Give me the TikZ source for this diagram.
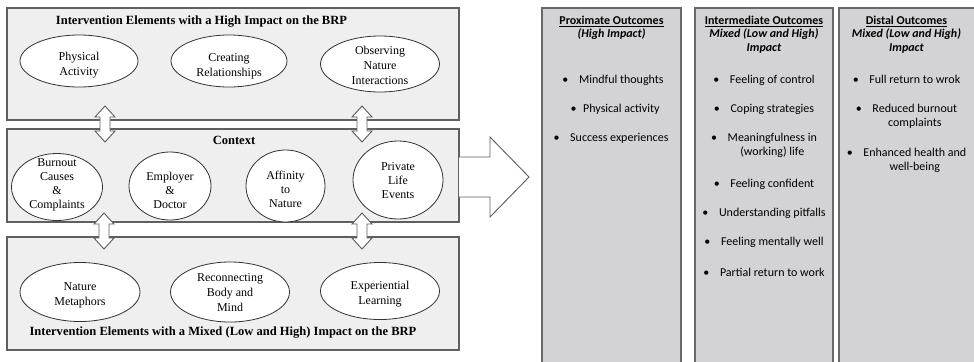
\documentclass[tikz,border=0pt]{standalone}
\usepackage{fontspec}
\setmainfont{Liberation Serif}
\newfontfamily\carl{Carlito}
\usetikzlibrary{shapes.geometric}
\definecolor{panelfill}{RGB}{239,239,239}
\definecolor{panelline}{RGB}{95,95,95}
\definecolor{colfill}{RGB}{211,211,213}
\definecolor{colline}{RGB}{105,105,105}
\definecolor{ellline}{RGB}{50,50,50}
\newcommand\dblarr[1]{%
  \draw[arrshape] (#1) -- ++(10,11) -- ++(-5,0) -- ++(0,14) -- ++(5,0) -- ++(-10,11)
    -- ++(-10,-11) -- ++(5,0) -- ++(0,-14) -- ++(-5,0) -- cycle;}
\begin{document}
\begin{tikzpicture}[x=0.75pt,y=-0.75pt,
  panel/.style={draw=panelline, fill=panelfill, line width=0.8pt},
  colbox/.style={draw=colline, fill=colfill, line width=1.1pt},
  ell/.style 2 args={ellipse, draw=ellline, fill=white, line width=0.6pt, inner sep=0pt,
     minimum width=#1*0.75pt, minimum height=#2*0.75pt},
  etext/.style={align=center, inner sep=0pt, font=\fontsize{9}{11.25}\selectfont},
  ctxtext/.style={align=center, inner sep=0pt, font=\fontsize{9}{10.5}\selectfont},
  ttl/.style={inner sep=0pt, font=\fontsize{9.4}{11}\selectfont\bfseries},
  ctext/.style={inner sep=0pt, anchor=base, align=center, font=\carl\fontsize{9}{11}\selectfont},
  arrshape/.style={draw=panelline, fill=white, line width=0.7pt, line join=miter}
]
\useasboundingbox (0,0) rectangle (974,361);

% left panels
\draw[panel] (7,8) rectangle (459,120);
\draw[panel] (7,129) rectangle (459,222);
\draw[panel] (7,237) rectangle (459,350);

% top panel
\node[ttl] (t1) at (201.5,22) {Intervention Elements with a High Impact on the BRP};
\node[ell={118}{52}] (pa) at (79,61) {};
\node[etext] at (79,65) {Physical\\Activity};
\node[ell={116}{52}] (cr) at (229,61) {};
\node[etext] at (229,66) {Creating\\Relationships};
\node[ell={119}{56}] (on) at (380,64) {};
\node[etext] at (380,65) {Observing\\Nature\\Interactions};

% context panel
\node[ttl] (t2) at (234,140) {Context};
\node[ell={91}{67}] (bc) at (57,187) {};
\node[ctxtext] at (57,185) {Burnout\\Causes\\\&\\Complaints};
\node[ell={82}{68}] (ed) at (170,186) {};
\node[ctxtext] at (170,190) {Employer\\\&\\Doctor};
\node[ell={79}{72}] (an) at (285.5,186) {};
\node[ctxtext] at (285.5,189) {Affinity\\to\\Nature};
\node[ell={90}{78}] (pl) at (398,180) {};
\node[ctxtext] at (398,181) {Private\\Life\\Events};

% bottom panel
\node[ell={120}{59}] (nm) at (80,292) {};
\node[etext] at (80,295) {Nature\\Metaphors};
\node[ell={119}{60}] (rb) at (230,292) {};
\node[etext] at (230,293) {Reconnecting\\Body and\\Mind};
\node[ell={119}{57}] (el) at (380,291) {};
\node[etext] at (380,294) {Experiential\\Learning};
\node[ttl] (t3) at (223,333) {Intervention Elements with a Mixed (Low and High) Impact on the BRP};

% double arrows
\coordinate (ua1) at (105,106);
\coordinate (ua2) at (362,106);
\coordinate (la1) at (104,213);
\coordinate (la2) at (362,213);
\dblarr{ua1}
\dblarr{ua2}
\dblarr{la1}
\dblarr{la2}

% big arrow
\coordinate (bs1) at (459,157);
\coordinate (bs2) at (459,197);
\draw[arrshape] (bs1) -- (490,157) -- (490,137) -- (529,177) -- (490,217) -- (490,197) -- (bs2);

% outcome columns
\draw[colbox] (542,8) rectangle (681,366);
\draw[colbox] (695,8) rectangle (833,366);
\draw[colbox] (839,8) rectangle (980,366);

% column 1
\node[ctext] (h1a) at (611.5,24) {\textbf{\underline{Proximate Outcomes}}};
\node[ctext] (h1b) at (611.5,37) {\textbf{\textit{(High Impact)}}};
\node[ctext] (p1) at (613,83) {\textbullet\hspace{8pt}Mindful thoughts};
\node[ctext] (p2) at (615,112) {\textbullet\hspace{5pt}Physical activity};
\node[ctext] (p3) at (611,141) {\textbullet\hspace{8pt}Success experiences};

% column 2
\node[ctext] (h2a) at (764,24) {\textbf{\underline{Intermediate Outcomes}}};
\node[ctext] (h2b) at (764,37) {\textbf{\textit{Mixed (Low and High)}}};
\node[ctext] (h2c) at (764,51) {\textbf{\textit{Impact}}};
\node[ctext] (i1) at (764,83) {\textbullet\hspace{8pt}Feeling of control};
\node[ctext] (i2) at (764,112) {\textbullet\hspace{8pt}Coping strategies};
\node[ctext] (i3) at (764,141) {\textbullet\hspace{8pt}\begin{tabular}[t]{@{}c@{}}Meaningfulness in\\(working) life\end{tabular}};
\node[ctext] (i4) at (764,187) {\textbullet\hspace{8pt}Feeling confident};
\node[ctext] (i5) at (764,216) {\textbullet\hspace{8pt}Understanding pitfalls};
\node[ctext] (i6) at (764,245) {\textbullet\hspace{8pt}Feeling mentally well};
\node[ctext] (i7) at (764,276) {\textbullet\hspace{8pt}Partial return to work};

% column 3
\node[ctext] (h3a) at (906.5,24) {\textbf{\underline{Distal Outcomes}}};
\node[ctext] (h3b) at (906.5,37) {\textbf{\textit{Mixed (Low and High)}}};
\node[ctext] (h3c) at (906.5,51) {\textbf{\textit{Impact}}};
\node[ctext] (d1) at (906.5,83) {\textbullet\hspace{8pt}Full return to wrok};
\node[ctext] (d2) at (906.5,112) {\textbullet\hspace{8pt}\begin{tabular}[t]{@{}c@{}}Reduced burnout\\complaints\end{tabular}};
\node[ctext] (d3) at (906.5,156) {\textbullet\hspace{8pt}\begin{tabular}[t]{@{}c@{}}Enhanced health and\\well-being\end{tabular}};
\end{tikzpicture}
\end{document}
